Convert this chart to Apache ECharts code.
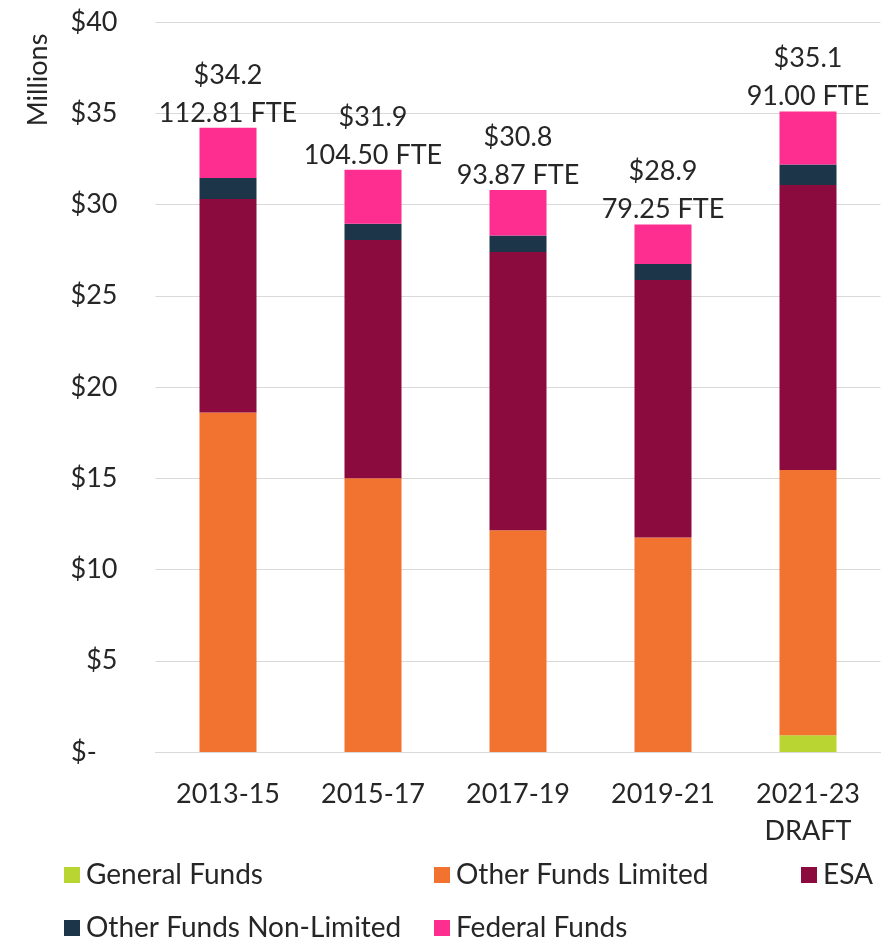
<!DOCTYPE html>
<html>
<head>
<meta charset="utf-8">
<script src="https://cdn.jsdelivr.net/npm/echarts@6/dist/echarts.min.js"></script>
<style>
html,body{margin:0;padding:0;background:#fff;}
#chart{width:887px;height:943px;}
</style>
</head>
<body>
<div id="chart"></div>
<script>
const categories = ['2013-15', '2015-17', '2017-19', '2019-21', '2021-23\nDRAFT'];
const generalFunds = [0, 0, 0, 0, 0.92];
const otherFundsLimited = [18.6, 15.0, 12.15, 11.75, 14.53];
const esa = [11.7, 13.05, 15.25, 14.11, 15.62];
const otherFundsNonLimited = [1.15, 0.9, 0.9, 0.88, 1.12];
const federalFunds = [2.75, 2.95, 2.5, 2.16, 2.91];
const totals = ['$34.2', '$31.9', '$30.8', '$28.9', '$35.1'];
const fte = ['112.81 FTE', '104.50 FTE', '93.87 FTE', '79.25 FTE', '91.00 FTE'];
const yTicks = [0, 5, 10, 15, 20, 25, 30, 35, 40];

const FONT = 'Lato';
const TXT = '#262626';
const FS = 27;
const colors = {
  'General Funds': '#b9d532',
  'Other Funds Limited': '#f2732f',
  'ESA': '#8c0b3e',
  'Other Funds Non-Limited': '#1d3549',
  'Federal Funds': '#fe2d90'
};

function barSeries(name, data, extra) {
  return Object.assign({
    name: name,
    type: 'bar',
    stack: 'total',
    barWidth: 57,
    data: data,
    itemStyle: { color: colors[name] },
    emphasis: { disabled: true }
  }, extra || {});
}

const chart = echarts.init(document.getElementById('chart'), null, { renderer: 'canvas' });

function legendAt(name, left, top) {
  return {
    data: [name],
    left: left,
    top: top,
    icon: 'rect',
    itemWidth: 16,
    itemHeight: 16,
    itemGap: 0,
    selectedMode: false,
    padding: 0,
    textStyle: { fontFamily: FONT, fontSize: 28, color: TXT, lineHeight: 30, padding: [0, 0, 0, 1] }
  };
}

chart.setOption({
  animation: false,
  backgroundColor: '#fff',
  grid: { left: 155.5, right: 6.5, top: 22, bottom: 191, containLabel: false },
  xAxis: {
    type: 'category',
    data: categories,
    axisLine: { show: true, lineStyle: { color: '#d9d9d9', width: 1 } },
    axisTick: { show: false },
    axisLabel: { fontFamily: FONT, fontSize: FS, color: TXT, margin: 24, lineHeight: 37 }
  },
  yAxis: {
    type: 'value',
    min: 0,
    max: 40,
    interval: 5,
    axisLine: { show: false },
    axisTick: { show: false },
    splitLine: { lineStyle: { color: '#d9d9d9', width: 1 } },
    axisLabel: {
      fontFamily: FONT, fontSize: FS, color: TXT, margin: 38,
      formatter: function (v) { return v === 0 ? '$-   ' : '$' + v; },
      customValues: yTicks
    }
  },
  legend: [
    legendAt('General Funds', 64, 860),
    legendAt('Other Funds Limited', 434, 860),
    legendAt('ESA', 801, 860),
    legendAt('Other Funds Non-Limited', 64, 913),
    legendAt('Federal Funds', 434, 913)
  ],
  graphic: [{
    type: 'text',
    x: 38,
    y: 80,
    rotation: Math.PI / 2,
    style: {
      text: 'Millions',
      fontFamily: FONT,
      fontSize: 27,
      fill: TXT,
      textAlign: 'center',
      textVerticalAlign: 'middle'
    }
  }],
  series: [
    barSeries('General Funds', generalFunds),
    barSeries('Other Funds Limited', otherFundsLimited),
    barSeries('ESA', esa),
    barSeries('Other Funds Non-Limited', otherFundsNonLimited),
    barSeries('Federal Funds', federalFunds, {
      label: {
        show: true,
        position: 'top',
        distance: -4,
        fontFamily: FONT,
        fontSize: FS,
        color: TXT,
        lineHeight: 38,
        formatter: function (p) { return totals[p.dataIndex] + '\n' + fte[p.dataIndex]; }
      }
    })
  ]
});
</script>
</body>
</html>
